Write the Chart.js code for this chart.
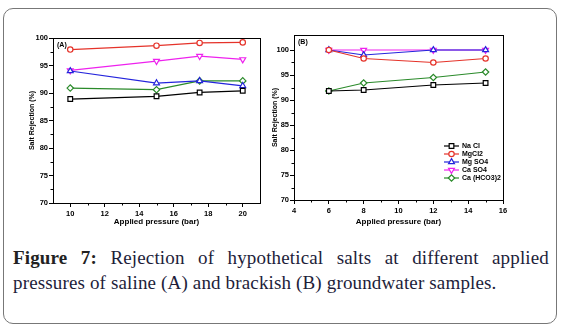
<!DOCTYPE html>
<html>
<head>
<meta charset="utf-8">
<script src="https://cdn.jsdelivr.net/npm/chart.js@4.4.1/dist/chart.umd.min.js"></script>
<style>
  body { margin: 0; background: #fff; width: 561px; height: 331px; overflow: hidden; position: relative; }
  .frame { position: absolute; left: 3px; top: 8px; width: 552px; height: 314px; border: 1px solid #777; border-radius: 10px; }
  #wrapA { position: absolute; left: 0; top: 0; width: 280px; height: 235px; }
  #wrapB { position: absolute; left: 266px; top: 0; width: 294px; height: 235px; }
  .caption {
    position: absolute; left: 13px; top: 245px; width: 536px; margin: 0;
    font-family: "Liberation Serif", "DejaVu Serif", serif; font-size: 19px; line-height: 25px;
    letter-spacing: 0.15px; color: #1d1d3a;
  }
  .caption .l1 { text-align: justify; text-align-last: justify; white-space: nowrap; }
  .caption b { color: #222; }
</style>
</head>
<body>
<div class="frame"></div>
<div id="wrapA"><canvas id="chartA"></canvas></div>
<div id="wrapB"><canvas id="chartB"></canvas></div>
<div class="caption">
  <div class="l1"><b>Figure 7:</b> Rejection of hypothetical salts at different applied</div>
  <div>pressures of saline (A) and brackish (B) groundwater samples.</div>
</div>

<script>
// salts
const saltNames = ["Na Cl", "MgCl2", "Mg SO4", "Ca SO4", "Ca (HCO3)2"];

// (A) saline groundwater
const pressureA = [10, 15, 17.5, 20];
const naclA   = [88.9, 89.4, 90.1, 90.4];
const mgcl2A  = [97.9, 98.6, 99.1, 99.2];
const mgso4A  = [94.0, 91.8, 92.2, 91.3];
const caso4A  = [94.1, 95.8, 96.7, 96.1];
const cahco3A = [90.9, 90.6, 92.2, 92.2];

// (B) brackish groundwater
const pressureB = [6, 8, 12, 15];
const naclB   = [91.8, 92.0, 93.0, 93.4];
const mgcl2B  = [100, 98.3, 97.5, 98.3];
const mgso4B  = [100, 99.0, 100, 100];
const caso4B  = [100, 100, 100, 100];
const cahco3B = [91.8, 93.4, 94.5, 95.6];

// tick labels
const xTicksA = [10, 12, 14, 16, 18, 20];
const xTicksB = [4, 6, 8, 10, 12, 14, 16];
const yTicks  = [70, 75, 80, 85, 90, 95, 100];

const colors = ["#000000", "#e5332a", "#2424dc", "#ee22ee", "#2a8a2a"];
const markers = [
  { style: "rect", r: 3.3, rot: 0 },
  { style: "circle", r: 2.7, rot: 0 },
  { style: "triangle", r: 3.4, rot: 0 },
  { style: "triangle", r: 3.4, rot: 180 },
  { style: "rectRot", r: 3.2, rot: 0 }
];
const font = "'Liberation Sans', Arial, sans-serif";

function midpoints(ticks) {
  const out = [];
  for (let i = 0; i < ticks.length - 1; i++) out.push((ticks[i] + ticks[i + 1]) / 2);
  return out;
}

function makeDatasets(xs, series) {
  return series.map((ys, i) => ({
    label: saltNames[i],
    data: xs.map((x, j) => ({ x: x, y: ys[j] })),
    borderColor: colors[i],
    backgroundColor: colors[i],
    borderWidth: 1.2,
    pointStyle: markers[i].style,
    pointRadius: markers[i].r,
    pointRotation: markers[i].rot,
    pointBackgroundColor: "#fff",
    pointBorderColor: colors[i],
    pointBorderWidth: 1.2,
    tension: 0
  }));
}

// frame, minor ticks, panel letter, Origin-style legend
const extras = {
  id: "extras",
  afterDraw(chart, args, opts) {
    const { ctx, chartArea: a, scales } = chart;
    ctx.save();
    ctx.strokeStyle = "#000";
    ctx.lineWidth = 1;
    ctx.strokeRect(Math.round(a.left) + 0.5, Math.round(a.top) + 0.5,
      Math.round(a.right - a.left), Math.round(a.bottom - a.top));

    ctx.beginPath();
    midpoints(opts.xTicks).forEach(v => {
      const px = Math.round(scales.x.getPixelForValue(v)) + 0.5;
      ctx.moveTo(px, a.bottom);
      ctx.lineTo(px, a.bottom + 2.5);
    });
    midpoints(yTicks).forEach(v => {
      const py = Math.round(scales.y.getPixelForValue(v)) + 0.5;
      ctx.moveTo(a.left, py);
      ctx.lineTo(a.left - 2.5, py);
    });
    ctx.stroke();

    ctx.fillStyle = "#000";
    ctx.font = "bold 7px " + font;
    ctx.textBaseline = "middle";
    ctx.fillText(opts.label, a.left + 4, a.top + 7);

    if (opts.legend) {
      const x0 = a.left + opts.legend.x;
      chart.data.datasets.forEach((ds, i) => {
        const y = a.top + opts.legend.y + i * 8;
        ctx.strokeStyle = ds.borderColor;
        ctx.lineWidth = 1.2;
        ctx.beginPath();
        ctx.moveTo(x0, y);
        ctx.lineTo(x0 + 15, y);
        ctx.stroke();
        ctx.fillStyle = "#fff";
        Chart.helpers.drawPoint(ctx, {
          pointStyle: ds.pointStyle, radius: ds.pointRadius,
          rotation: ds.pointRotation, borderWidth: 1.2
        }, x0 + 7.5, y);
        ctx.fillStyle = "#000";
        ctx.font = "bold 7px " + font;
        ctx.fillText(ds.label, x0 + 18, y);
      });
    }
    ctx.restore();
  }
};

function makeChart(id, cfg) {
  return new Chart(document.getElementById(id), {
    type: "line",
    data: { datasets: cfg.datasets },
    plugins: [extras],
    options: {
      responsive: true,
      maintainAspectRatio: false,
      animation: false,
      layout: { padding: { top: cfg.padTop, right: cfg.padRight, left: 0, bottom: 0 } },
      plugins: {
        legend: { display: false },
        tooltip: { enabled: false },
        extras: { xTicks: cfg.xTicks, label: cfg.label, legend: cfg.legend }
      },
      scales: {
        x: {
          type: "linear",
          min: cfg.xMin,
          max: cfg.xMax,
          afterBuildTicks: s => { s.ticks = cfg.xTicks.map(v => ({ value: v })); },
          afterFit: s => { s.height = cfg.xHeight; },
          grid: { drawOnChartArea: false, drawTicks: true, tickLength: 4, color: "#000", lineWidth: 1 },
          border: { display: true, color: "#000", width: 1 },
          ticks: { color: "#000", font: { family: font, size: 7.5, weight: "bold" }, padding: 2, maxRotation: 0, autoSkip: false },
          title: {
            display: true, text: "Applied pressure (bar)", color: "#000",
            font: { family: font, size: 8, weight: "bold" }, padding: { top: 0, bottom: cfg.xTitlePad }
          }
        },
        y: {
          min: 70,
          max: cfg.yMax,
          afterBuildTicks: s => { s.ticks = yTicks.map(v => ({ value: v })); },
          afterFit: s => { s.width = cfg.yWidth; },
          grid: { drawOnChartArea: false, drawTicks: true, tickLength: 4, color: "#000", lineWidth: 1 },
          border: { display: true, color: "#000", width: 1 },
          ticks: { color: "#000", font: { family: font, size: 7.5, weight: "bold" }, padding: 1 },
          title: {
            display: true, text: "Salt Rejection (%)", color: "#000",
            font: { family: font, size: 7, weight: "bold" }, padding: { top: cfg.yTitlePad, bottom: 0 }
          }
        }
      }
    }
  });
}

makeChart("chartA", {
  datasets: makeDatasets(pressureA, [naclA, mgcl2A, mgso4A, caso4A, cahco3A]),
  xMin: 9, xMax: 21, xTicks: xTicksA, yMax: 100,
  padTop: 38, padRight: 20, yWidth: 53, xHeight: 32,
  xTitlePad: 8, yTitlePad: 27.5,
  label: "(A)", legend: null
});

makeChart("chartB", {
  datasets: makeDatasets(pressureB, [naclB, mgcl2B, mgso4B, caso4B, cahco3B]),
  xMin: 4, xMax: 16, xTicks: xTicksB, yMax: 103,
  padTop: 35, padRight: 57, yWidth: 28, xHeight: 35,
  xTitlePad: 8, yTitlePad: 4.8,
  label: "(B)", legend: { x: 150, y: 111 }
});
</script>
</body>
</html>
